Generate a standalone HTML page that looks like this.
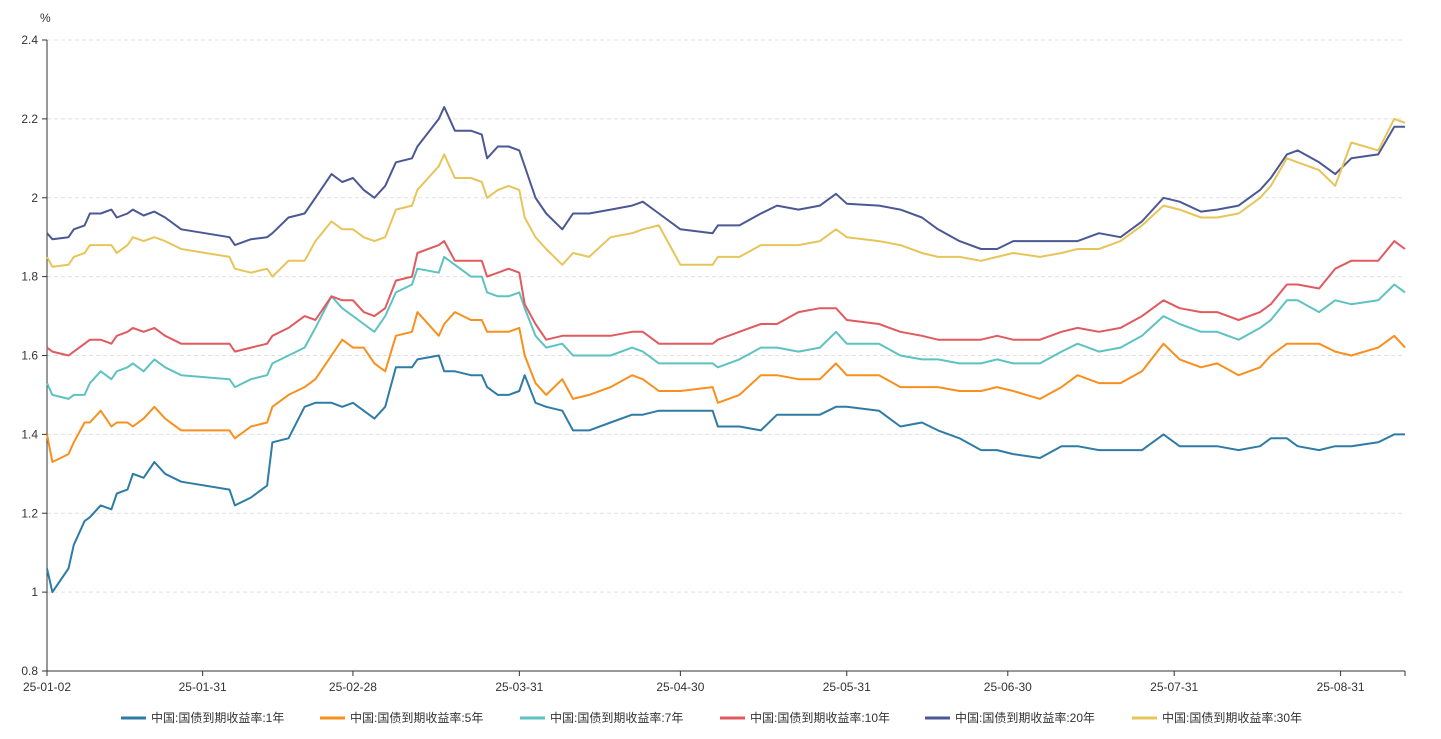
<!DOCTYPE html>
<html><head><meta charset="utf-8"><style>
body{margin:0;background:#fff;width:1441px;height:734px;overflow:hidden;font-family:"Liberation Sans","Noto Sans CJK SC",sans-serif}
</style></head><body>
<svg id="chart" width="1441" height="734" xmlns="http://www.w3.org/2000/svg" style="font-family:'Liberation Sans','Noto Sans CJK SC',sans-serif"></svg>
<script>
const days=[0,1,4,5,7,8,10,12,13,15,16,18,20,22,25,34,35,38,41,42,45,48,50,53,55,57,59,61,63,65,68,69,73,74,76,79,81,82,84,86,88,89,91,93,96,98,101,105,109,111,114,118,124,125,129,133,136,140,144,147,149,155,159,163,166,170,174,177,180,185,189,192,196,200,204,208,211,215,218,222,226,228,231,233,237,240,243,248,251,253];
const y1=[1.06,1.00,1.06,1.12,1.18,1.19,1.22,1.21,1.25,1.26,1.30,1.29,1.33,1.30,1.28,1.26,1.22,1.24,1.27,1.38,1.39,1.47,1.48,1.48,1.47,1.48,1.46,1.44,1.47,1.57,1.57,1.59,1.60,1.56,1.56,1.55,1.55,1.52,1.50,1.50,1.51,1.55,1.48,1.47,1.46,1.41,1.41,1.43,1.45,1.45,1.46,1.46,1.46,1.42,1.42,1.41,1.45,1.45,1.45,1.47,1.47,1.46,1.42,1.43,1.41,1.39,1.36,1.36,1.35,1.34,1.37,1.37,1.36,1.36,1.36,1.40,1.37,1.37,1.37,1.36,1.37,1.39,1.39,1.37,1.36,1.37,1.37,1.38,1.40,1.40];
const y5=[1.40,1.33,1.35,1.38,1.43,1.43,1.46,1.42,1.43,1.43,1.42,1.44,1.47,1.44,1.41,1.41,1.39,1.42,1.43,1.47,1.50,1.52,1.54,1.60,1.64,1.62,1.62,1.58,1.56,1.65,1.66,1.71,1.65,1.68,1.71,1.69,1.69,1.66,1.66,1.66,1.67,1.60,1.53,1.50,1.54,1.49,1.50,1.52,1.55,1.54,1.51,1.51,1.52,1.48,1.50,1.55,1.55,1.54,1.54,1.58,1.55,1.55,1.52,1.52,1.52,1.51,1.51,1.52,1.51,1.49,1.52,1.55,1.53,1.53,1.56,1.63,1.59,1.57,1.58,1.55,1.57,1.60,1.63,1.63,1.63,1.61,1.60,1.62,1.65,1.62];
const y7=[1.53,1.50,1.49,1.50,1.50,1.53,1.56,1.54,1.56,1.57,1.58,1.56,1.59,1.57,1.55,1.54,1.52,1.54,1.55,1.58,1.60,1.62,1.67,1.75,1.72,1.70,1.68,1.66,1.70,1.76,1.78,1.82,1.81,1.85,1.83,1.80,1.80,1.76,1.75,1.75,1.76,1.72,1.65,1.62,1.63,1.60,1.60,1.60,1.62,1.61,1.58,1.58,1.58,1.57,1.59,1.62,1.62,1.61,1.62,1.66,1.63,1.63,1.60,1.59,1.59,1.58,1.58,1.59,1.58,1.58,1.61,1.63,1.61,1.62,1.65,1.70,1.68,1.66,1.66,1.64,1.67,1.69,1.74,1.74,1.71,1.74,1.73,1.74,1.78,1.76];
const y10=[1.62,1.61,1.60,1.61,1.63,1.64,1.64,1.63,1.65,1.66,1.67,1.66,1.67,1.65,1.63,1.63,1.61,1.62,1.63,1.65,1.67,1.70,1.69,1.75,1.74,1.74,1.71,1.70,1.72,1.79,1.80,1.86,1.88,1.89,1.84,1.84,1.84,1.80,1.81,1.82,1.81,1.73,1.68,1.64,1.65,1.65,1.65,1.65,1.66,1.66,1.63,1.63,1.63,1.64,1.66,1.68,1.68,1.71,1.72,1.72,1.69,1.68,1.66,1.65,1.64,1.64,1.64,1.65,1.64,1.64,1.66,1.67,1.66,1.67,1.70,1.74,1.72,1.71,1.71,1.69,1.71,1.73,1.78,1.78,1.77,1.82,1.84,1.84,1.89,1.87];
const y20=[1.91,1.895,1.90,1.92,1.93,1.96,1.96,1.97,1.95,1.96,1.97,1.955,1.965,1.95,1.92,1.90,1.88,1.895,1.90,1.91,1.95,1.96,2.00,2.06,2.04,2.05,2.02,2.00,2.03,2.09,2.10,2.13,2.20,2.23,2.17,2.17,2.16,2.10,2.13,2.13,2.12,2.08,2.00,1.96,1.92,1.96,1.96,1.97,1.98,1.99,1.96,1.92,1.91,1.93,1.93,1.96,1.98,1.97,1.98,2.01,1.985,1.98,1.97,1.95,1.92,1.89,1.87,1.87,1.89,1.89,1.89,1.89,1.91,1.90,1.94,2.00,1.99,1.965,1.97,1.98,2.02,2.05,2.11,2.12,2.09,2.06,2.10,2.11,2.18,2.18];
const y30=[1.85,1.825,1.83,1.85,1.86,1.88,1.88,1.88,1.86,1.88,1.90,1.89,1.90,1.89,1.87,1.85,1.82,1.81,1.82,1.80,1.84,1.84,1.89,1.94,1.92,1.92,1.90,1.89,1.90,1.97,1.98,2.02,2.08,2.11,2.05,2.05,2.04,2.00,2.02,2.03,2.02,1.95,1.90,1.87,1.83,1.86,1.85,1.90,1.91,1.92,1.93,1.83,1.83,1.85,1.85,1.88,1.88,1.88,1.89,1.92,1.90,1.89,1.88,1.86,1.85,1.85,1.84,1.85,1.86,1.85,1.86,1.87,1.87,1.89,1.93,1.98,1.97,1.95,1.95,1.96,2.00,2.03,2.10,2.09,2.07,2.03,2.14,2.12,2.20,2.19];
const seriesNames=["中国:国债到期收益率:1年","中国:国债到期收益率:5年","中国:国债到期收益率:7年","中国:国债到期收益率:10年","中国:国债到期收益率:20年","中国:国债到期收益率:30年"];
const yTicks=[0.8,1,1.2,1.4,1.6,1.8,2,2.2,2.4];
const xTickDays=[0,29,57,88,118,149,179,210,241];
const xTickLabels=["25-01-02","25-01-31","25-02-28","25-03-31","25-04-30","25-05-31","25-06-30","25-07-31","25-08-31"];

const colors=["#2e7ca6","#f7901e","#5fc2c2","#e05a5f","#4b5893","#e6c55a"];
const all=[y1,y5,y7,y10,y20,y30];
const L=47,R=1405,T=40,B=671;
const xs=d=>L+d*(R-L)/253;
const ys=v=>B-(v-0.8)/(2.4-0.8)*(B-T);
const svg=document.getElementById('chart');
const NS="http://www.w3.org/2000/svg";
function mk(tag,at,parent){const e=document.createElementNS(NS,tag);for(const k in at)e.setAttribute(k,at[k]);(parent||svg).appendChild(e);return e;}
yTicks.forEach(v=>{
  const g=mk('line',{x1:L,x2:R,y1:ys(v),y2:ys(v),stroke:'#e0e0e0','stroke-dasharray':'4,3'});
  
  
  const tk=mk('line',{x1:L-5,x2:L,y1:ys(v),y2:ys(v),stroke:'#333'});
  
  
  const t=mk('text',{x:L-9,y:ys(v)+4,'text-anchor':'end','font-size':12,fill:'#333'});
  t.textContent=String(v);
  
  
});
const ya=mk('line',{x1:L,x2:L,y1:T,y2:B,stroke:'#333'});


const xa=mk('line',{x1:L,x2:R,y1:B,y2:B,stroke:'#333'});


const u=mk('text',{x:40,y:22,'font-size':12,fill:'#333'});u.textContent='%';


xTickDays.forEach((d,i)=>{
  const tk=mk('line',{x1:xs(d),x2:xs(d),y1:B,y2:B+5,stroke:'#333'});
  
  
  const t=mk('text',{x:xs(d),y:B+20,'text-anchor':'middle','font-size':12,fill:'#333'});
  t.textContent=xTickLabels[i];
  
  
});
const endTk=mk('line',{x1:R,x2:R,y1:B,y2:B+5,stroke:'#333'});


all.forEach((s,i)=>{
  const p=mk('path',{d:s.map((v,j)=>(j?'L':'M')+xs(days[j]).toFixed(1)+','+ys(v).toFixed(1)).join(''),fill:'none',stroke:colors[i],'stroke-width':2,'stroke-linejoin':'round'});
  
  
});
const lx=[121,320,520,720,925,1132];
seriesNames.forEach((n,i)=>{
  const g=mk('g',{});
  
  
  mk('line',{x1:lx[i],x2:lx[i]+25,y1:718,y2:718,stroke:colors[i],'stroke-width':3},g);
  const t=mk('text',{x:lx[i]+30,y:722,'font-size':12,fill:'#333'},g);
  t.textContent=n;
});
</script>
</body></html>
